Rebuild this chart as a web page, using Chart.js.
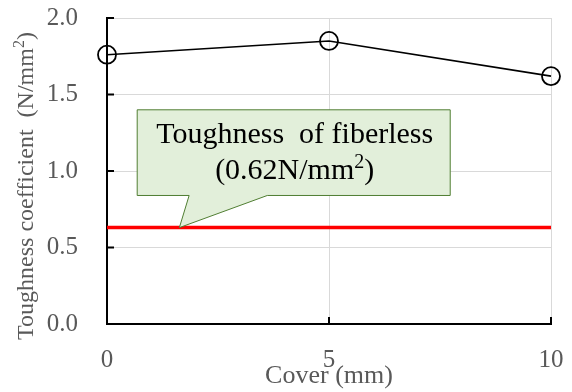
<!DOCTYPE html>
<html>
<head>
<meta charset="utf-8">
<script src="https://cdn.jsdelivr.net/npm/chart.js@4/dist/chart.umd.min.js"></script>
<style>
  html, body { margin: 0; padding: 0; background: #ffffff; }
  #wrap { width: 572px; height: 392px; }
</style>
</head>
<body>
<div id="wrap"><canvas id="c" width="572" height="392"></canvas></div>
<script>
// ---- data ----
const cover = [0, 5, 10];
const toughness = [1.76, 1.85, 1.62];
const fiberlessX = [0, 10];
const fiberlessY = [0.63, 0.63];
const yTicks = [0, 0.5, 1.0, 1.5, 2.0];
const xTicks = [0, 5, 10];
const yTitle = 'Toughness coefficient  (N/mm\u00B2)';
const xTitle = 'Cover (mm)';
const calloutLines = ['Toughness  of fiberless', '(0.62N/mm\u00B2)'];

// callout geometry in data units (annotation anchor)
const callout = { x0: 0.68, x1: 7.73, yTop: 1.40, yBot: 0.84, baseA: 1.85, baseB: 3.61, tipX: 1.63, tipY: 0.63, line1Y: 1.245, line2Y: 1.015 };

const SERIF = '"Liberation Serif", "Times New Roman", serif';
const GRAY = '#595959';

// draws text centred at (cx, cy); a '²' is drawn as a raised smaller '2'
function drawRich(ctx, text, cx, cy, size) {
  const parts = [];
  text.split('\u00B2').forEach((seg, i, arr) => {
    if (seg) parts.push({ t: seg, sup: false });
    if (i < arr.length - 1) parts.push({ t: '2', sup: true });
  });
  const supSize = Math.round(size * 0.66);
  let total = 0;
  parts.forEach(p => {
    ctx.font = (p.sup ? supSize : size) + 'px ' + SERIF;
    p.w = ctx.measureText(p.t).width;
    total += p.w;
  });
  let x = cx - total / 2;
  ctx.textAlign = 'left';
  ctx.textBaseline = 'alphabetic';
  const base = cy + size * 0.33;
  parts.forEach(p => {
    ctx.font = (p.sup ? supSize : size) + 'px ' + SERIF;
    ctx.fillText(p.t, x, p.sup ? base - size * 0.36 : base);
    x += p.w;
  });
}

const decor = {
  id: 'decor',
  afterDatasetsDraw(chart) {
    const ctx = chart.ctx;
    const xs = chart.scales.x, ys = chart.scales.y;
    const area = chart.chartArea;
    ctx.save();
    // inward tick marks
    ctx.strokeStyle = '#000';
    ctx.lineWidth = 2;
    ctx.beginPath();
    yTicks.forEach(v => {
      const py = ys.getPixelForValue(v);
      ctx.moveTo(area.left, py); ctx.lineTo(area.left + 7, py);
    });
    xTicks.forEach(v => {
      const px = xs.getPixelForValue(v);
      ctx.moveTo(px, area.bottom); ctx.lineTo(px, area.bottom - 7);
    });
    ctx.stroke();

    // callout
    const X0 = xs.getPixelForValue(callout.x0), X1 = xs.getPixelForValue(callout.x1);
    const YT = ys.getPixelForValue(callout.yTop), YB = ys.getPixelForValue(callout.yBot);
    const BA = xs.getPixelForValue(callout.baseA), BB = xs.getPixelForValue(callout.baseB);
    const TX = xs.getPixelForValue(callout.tipX), TY = ys.getPixelForValue(callout.tipY);
    ctx.beginPath();
    ctx.moveTo(X0, YT);
    ctx.lineTo(X1, YT);
    ctx.lineTo(X1, YB);
    ctx.lineTo(BB, YB);
    ctx.lineTo(TX, TY);
    ctx.lineTo(BA, YB);
    ctx.lineTo(X0, YB);
    ctx.closePath();
    ctx.fillStyle = '#e2efda';
    ctx.fill();
    ctx.strokeStyle = '#507e32';
    ctx.lineWidth = 1;
    ctx.stroke();

    ctx.fillStyle = '#000';
    const cx = (X0 + X1) / 2 + 1;
    drawRich(ctx, calloutLines[0], cx, ys.getPixelForValue(callout.line1Y), 30);
    drawRich(ctx, calloutLines[1], cx, ys.getPixelForValue(callout.line2Y), 30);

    // y axis title
    ctx.save();
    ctx.translate(25, (area.top + area.bottom) / 2 + 15);
    ctx.rotate(-Math.PI / 2);
    ctx.fillStyle = GRAY;
    drawRich(ctx, yTitle, 0, 0, 24);
    ctx.restore();
    ctx.restore();
  }
};

new Chart(document.getElementById('c'), {
  type: 'line',
  data: {
    datasets: [
      {
        data: cover.map((x, i) => ({ x, y: toughness[i] })),
        borderColor: '#000',
        borderWidth: 1.6,
        pointStyle: 'circle',
        pointRadius: 9,
        pointBorderWidth: 1.8,
        pointBorderColor: '#000',
        pointBackgroundColor: 'rgba(0,0,0,0)',
        clip: false,
        order: 1
      },
      {
        data: fiberlessX.map((x, i) => ({ x, y: fiberlessY[i] })),
        borderColor: '#ff0000',
        borderWidth: 3.5,
        pointRadius: 0,
        clip: false,
        order: 2
      }
    ]
  },
  options: {
    responsive: false,
    animation: false,
    layout: { padding: { top: 18, right: 21, left: 0, bottom: 0 } },
    plugins: { legend: { display: false }, tooltip: { enabled: false } },
    scales: {
      x: {
        type: 'linear', min: 0, max: 10,
        afterBuildTicks(s) { s.ticks = xTicks.map(v => ({ value: v })); },
        afterFit(s) { s.height = 68; s.paddingLeft = 0; s.paddingRight = 0; },
        ticks: { font: { family: SERIF, size: 25 }, color: GRAY, padding: 21 },
        grid: { color: '#d9d9d9', lineWidth: 1, drawTicks: false },
        border: { color: '#000', width: 2 },
        title: { display: true, text: xTitle, font: { family: SERIF, size: 26 }, color: GRAY, padding: { top: 0, bottom: 0 } }
      },
      y: {
        min: 0, max: 2,
        afterBuildTicks(s) { s.ticks = yTicks.map(v => ({ value: v })); },
        afterFit(s) { s.width = 107; s.paddingTop = 0; s.paddingBottom = 0; },
        ticks: { font: { family: SERIF, size: 25 }, color: GRAY, padding: 29, callback: v => v.toFixed(1) },
        grid: { color: '#d9d9d9', lineWidth: 1, drawTicks: false },
        border: { color: '#000', width: 2 }
      }
    }
  },
  plugins: [decor]
});
</script>
</body>
</html>
